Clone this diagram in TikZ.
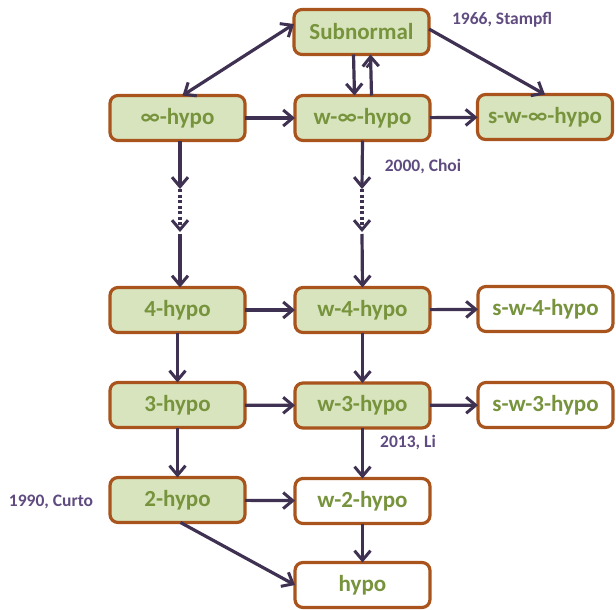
\documentclass[tikz,border=0pt]{standalone}
\usepackage{fontspec}
\setmainfont{Carlito}
\usetikzlibrary{arrows.meta}
\definecolor{boxfill}{HTML}{D7E4BD}
\definecolor{boxline}{HTML}{A8541C}
\definecolor{boxtext}{HTML}{77933C}
\definecolor{arrowcol}{HTML}{3F3151}
\definecolor{notecol}{HTML}{5F4B80}
\begin{document}
\begin{tikzpicture}[x=1pt,y=-1pt,
  tip/.tip={Straight Barb[length=9.5pt,width=16pt,line width=3pt]},
  cls/.style={draw=boxline, line width=3.2pt, rounded corners=8pt,
    minimum width=135pt, minimum height=45pt, inner sep=0pt, outer sep=0pt,
    font=\bfseries\fontsize{23}{25}\selectfont, text=boxtext},
  solved/.style={cls, fill=boxfill},
  open/.style={cls, fill=white},
  imp/.style={draw=arrowcol, line width=3.2pt, -tip},
  dimp/.style={imp, dash pattern=on 3pt off 2.5pt},
  note/.style={font=\bfseries\fontsize{17.5}{19}\selectfont, text=notecol}]
\useasboundingbox (0,0) rectangle (616,610);

% classes of operators
\node[solved] (sub)   at (361.5,32)  {Subnormal};
\node[solved] (inf)   at (177.5,118) {∞-hypo};
\node[solved] (winf)  at (362.5,118) {w-∞-hypo};
\node[solved] (swinf) at (545,117)   {s-w-∞-hypo};
\node[solved] (h4)    at (177.5,310) {4-hypo};
\node[solved] (w4)    at (362.5,310) {w-4-hypo};
\node[open]   (sw4)   at (545.5,309) {s-w-4-hypo};
\node[solved] (h3)    at (177.5,405) {3-hypo};
\node[solved] (w3)    at (362.5,405.5) {w-3-hypo};
\node[open]   (sw3)   at (545.5,405) {s-w-3-hypo};
\node[solved] (h2)    at (177.5,500) {2-hypo};
\node[open]   (w2)    at (362.5,501) {w-2-hypo};
\node[open]   (hyp)   at (362.5,585) {hypo};

% references
\node[note] (n1) at (502,20)  {1966, Stampfl};
\node[note] (n2) at (423,167) {2000, Choi};
\node[note] (n3) at (408,443) {2013, Li};
\node[note] (n4) at (51,502)  {1990, Curto};

% implications
\draw[imp, tip-tip] ([yshift=8pt]sub.west) -- ([xshift=5pt]inf.north);
\draw[imp] ([xshift=-8pt]sub.south) -- ([xshift=-8pt]winf.north);
\draw[imp] ([xshift=9pt]winf.north) -- ([xshift=9pt]sub.south);
\draw[draw=arrowcol, line width=2.4pt] ([xshift=9pt,yshift=-8pt]sub.south) -- ([xshift=5pt,yshift=-13pt]sub.south);
\draw[imp] ([yshift=3pt]sub.east) -- (swinf.north);
\draw[imp] (inf) -- (winf);
\draw[imp] (winf) -- (swinf);

% the chains from infinity down to 4
\coordinate (ia) at (180,189);
\coordinate (ib) at (180,232);
\coordinate (wa) at (362,189);
\coordinate (wb) at (362,232);
\draw[imp] ([xshift=2.5pt]inf.south) -- (ia);
\draw[dimp] (ia) -- (ib);
\draw[imp] ([yshift=-2pt]ib) -- ([xshift=2.5pt]h4.north);
\draw[imp] (winf.south) -- (wa);
\draw[dimp] (wa) -- (wb);
\draw[imp] ([yshift=-2pt]wb) -- (w4.north);

\draw[imp] (h4) -- (w4);
\draw[imp] (w4) -- (sw4);
\draw[imp] (h4) -- (h3);
\draw[imp] (w4) -- (w3);
\draw[imp] (h3) -- (w3);
\draw[imp] (w3) -- (sw3);
\draw[imp] (h3) -- (h2);
\draw[imp] (w3) -- (w2);
\draw[imp] (h2) -- (w2);
\draw[imp] (w2) -- (hyp);
\draw[imp] ([xshift=3pt]h2.south) -- (hyp.west);
\end{tikzpicture}
\end{document}
